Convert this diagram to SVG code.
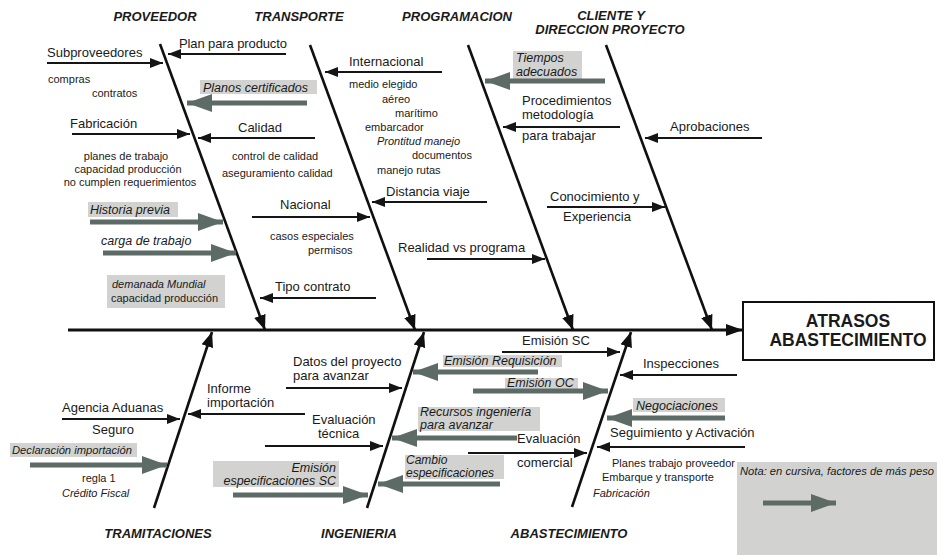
<svg xmlns="http://www.w3.org/2000/svg" width="937" height="555" viewBox="0 0 937 555">
  <defs>
    <style>
      text { font-family: "Liberation Sans", Arial, sans-serif; fill: #1a1a1a; }
      .t { font-size: 13px; }
      .w { font-size: 12.5px; font-style: italic; }
      .s { font-size: 11px; }
      .i { font-style: italic; }
      .cat { font-size: 13px; font-weight: bold; font-style: italic; text-anchor: middle; }
      .eff { font-size: 17.5px; font-weight: bold; text-anchor: middle; }
      .hl { fill: #d2d2d0; }
      .ln { stroke: #151515; stroke-width: 1.8; fill: none; marker-end: url(#ah); }
      .bone { stroke: #101010; stroke-width: 2.6; fill: none; marker-end: url(#ahb); }
      .spine { stroke: #101010; stroke-width: 3; fill: none; marker-end: url(#ahs); }
      .ga { stroke: #5d6b67; stroke-width: 5; fill: none; marker-end: url(#gah); }
    </style>
    <marker id="ah" markerUnits="userSpaceOnUse" markerWidth="14" markerHeight="12" refX="13" refY="6" orient="auto" viewBox="0 0 14 12">
      <path d="M0,1 L13,6 L0,11 Z" fill="#151515"/>
    </marker>
    <marker id="ahb" markerUnits="userSpaceOnUse" markerWidth="16" markerHeight="14" refX="15" refY="7" orient="auto" viewBox="0 0 16 14">
      <path d="M0,1 L15,7 L0,13 Z" fill="#101010"/>
    </marker>
    <marker id="ahs" markerUnits="userSpaceOnUse" markerWidth="18" markerHeight="14" refX="17" refY="7" orient="auto" viewBox="0 0 18 14">
      <path d="M0,1 L17,7 L0,13 Z" fill="#101010"/>
    </marker>
    <marker id="gah" markerUnits="userSpaceOnUse" markerWidth="26" markerHeight="20" refX="25" refY="10" orient="auto" viewBox="0 0 26 20">
      <path d="M0,1 L25,10 L0,19 Z" fill="#5d6b67"/>
    </marker>
  </defs>

  <rect width="937" height="555" fill="#ffffff"/>

  <!-- highlight panels behind weighted factors -->
  <g id="highlights">
    <rect class="hl" x="200" y="80" width="117" height="14"/>
    <rect class="hl" x="88" y="202" width="90" height="15"/>
    <rect class="hl" x="107" y="275" width="118" height="33"/>
    <rect class="hl" x="513" y="51" width="69" height="28"/>
    <rect class="hl" x="10" y="443" width="127" height="14"/>
    <rect class="hl" x="213" y="461" width="126" height="26"/>
    <rect class="hl" x="443" y="355" width="119" height="12"/>
    <rect class="hl" x="505" y="378" width="73" height="11"/>
    <rect class="hl" x="418" y="407" width="122" height="24"/>
    <rect class="hl" x="405" y="455" width="99" height="24"/>
    <rect class="hl" x="633" y="398" width="92" height="14"/>
    <rect class="hl" x="737" y="462" width="200" height="93"/>
  </g>

  <!-- spine, bones and cause arrows -->
  <g id="connectors">
    <line class="spine" x1="68" y1="330" x2="743" y2="330"/>

    <line class="bone" x1="160" y1="44" x2="265" y2="330"/>
    <line class="bone" x1="310" y1="45" x2="415" y2="330"/>
    <line class="bone" x1="468" y1="45" x2="573" y2="330"/>
    <line class="bone" x1="606" y1="45" x2="712" y2="330"/>
    <line class="bone" x1="154" y1="508" x2="212" y2="332"/>
    <line class="bone" x1="367" y1="508" x2="424" y2="332"/>
    <line class="bone" x1="572" y1="507" x2="631" y2="332"/>

    <!-- plain causes -->
    <line class="ln" x1="47" y1="63" x2="163" y2="63"/>
    <line class="ln" x1="286" y1="54" x2="168" y2="54"/>
    <line class="ln" x1="72" y1="134" x2="190" y2="134"/>
    <line class="ln" x1="315" y1="138" x2="198" y2="138"/>
    <line class="ln" x1="376" y1="298" x2="260" y2="298"/>
    <line class="ln" x1="442" y1="72" x2="325" y2="72"/>
    <line class="ln" x1="487" y1="202" x2="372" y2="202"/>
    <line class="ln" x1="252" y1="217" x2="370" y2="217"/>
    <line class="ln" x1="620" y1="127" x2="503" y2="127"/>
    <line class="ln" x1="427" y1="259" x2="545" y2="259"/>
    <line class="ln" x1="547" y1="207" x2="665" y2="207"/>
    <line class="ln" x1="762" y1="138" x2="645" y2="138"/>
    <line class="ln" x1="62" y1="419" x2="180" y2="419"/>
    <line class="ln" x1="305" y1="414" x2="188" y2="414"/>
    <line class="ln" x1="286" y1="388" x2="402" y2="388"/>
    <line class="ln" x1="265" y1="446" x2="383" y2="446"/>
    <line class="ln" x1="502" y1="352" x2="620" y2="352"/>
    <line class="ln" x1="468" y1="453" x2="587" y2="453"/>
    <line class="ln" x1="737" y1="375" x2="620" y2="375"/>
    <line class="ln" x1="745" y1="447" x2="597" y2="447"/>

    <!-- weighted causes -->
    <line class="ga" x1="307" y1="103" x2="187" y2="103"/>
    <line class="ga" x1="90" y1="222" x2="223" y2="222"/>
    <line class="ga" x1="103" y1="253" x2="236" y2="253"/>
    <line class="ga" x1="605" y1="81" x2="485" y2="81"/>
    <line class="ga" x1="30" y1="465" x2="167" y2="465"/>
    <line class="ga" x1="233" y1="495" x2="368" y2="495"/>
    <line class="ga" x1="538" y1="372" x2="413" y2="372"/>
    <line class="ga" x1="473" y1="391" x2="608" y2="391"/>
    <line class="ga" x1="517" y1="438" x2="392" y2="438"/>
    <line class="ga" x1="500" y1="484" x2="378" y2="484"/>
    <line class="ga" x1="725" y1="418" x2="607" y2="418"/>
    <line class="ga" x1="763" y1="503" x2="836" y2="503"/>
  </g>

  <g id="proveedor">
    <text class="cat" x="155" y="21">PROVEEDOR</text>
    <text class="t" x="47" y="57">Subproveedores</text>
    <text class="s" x="48" y="83">compras</text>
    <text class="s" x="92" y="97">contratos</text>
    <text class="t" x="70" y="128">Fabricación</text>
    <text class="s" x="126" y="160" text-anchor="middle">planes de trabajo</text>
    <text class="s" x="128" y="173" text-anchor="middle">capacidad producción</text>
    <text class="s" x="130" y="186" text-anchor="middle">no cumplen requerimientos</text>
    <text class="w" x="90" y="214">Historia previa</text>
    <text class="w" x="101" y="245">carga de trabajo</text>
    <text class="s i" x="112" y="288">demanada Mundial</text>
    <text class="s" x="111" y="302">capacidad producción</text>
  </g>

  <g id="transporte">
    <text class="cat" x="299" y="21">TRANSPORTE</text>
    <text class="t" x="179" y="48" textLength="108">Plan para producto</text>
    <text class="w" x="203" y="92">Planos certificados</text>
    <text class="t" x="238" y="132">Calidad</text>
    <text class="s" x="232" y="160">control de calidad</text>
    <text class="s" x="222" y="177">aseguramiento calidad</text>
    <text class="t" x="280" y="209">Nacional</text>
    <text class="s" x="270" y="240">casos especiales</text>
    <text class="s" x="308" y="254">permisos</text>
    <text class="t" x="275" y="291">Tipo contrato</text>
  </g>

  <g id="programacion">
    <text class="cat" x="457" y="21">PROGRAMACION</text>
    <text class="t" x="349" y="66">Internacional</text>
    <text class="s" x="349" y="88">medio elegido</text>
    <text class="s" x="382" y="103">aéreo</text>
    <text class="s" x="395" y="117">marítimo</text>
    <text class="s" x="365" y="131">embarcador</text>
    <text class="s i" x="377" y="145">Prontitud manejo</text>
    <text class="s" x="412" y="159">documentos</text>
    <text class="s" x="377" y="174">manejo rutas</text>
    <text class="t" x="386" y="196">Distancia viaje</text>
    <text class="t" x="398" y="252">Realidad vs programa</text>
  </g>

  <g id="cliente">
    <text class="cat" x="611" y="20">CLIENTE Y</text>
    <text class="cat" x="610" y="34">DIRECCION PROYECTO</text>
    <text class="w" x="516" y="62">Tiempos</text>
    <text class="w" x="516" y="76">adecuados</text>
    <text class="t" x="522" y="105">Procedimientos</text>
    <text class="t" x="522" y="119">metodología</text>
    <text class="t" x="522" y="140">para trabajar</text>
    <text class="t" x="550" y="201">Conocimiento y</text>
    <text class="t" x="563" y="221">Experiencia</text>
    <text class="t" x="670" y="131">Aprobaciones</text>
  </g>

  <g id="tramitaciones">
    <text class="cat" x="158" y="538">TRAMITACIONES</text>
    <text class="t" x="62" y="412">Agencia Aduanas</text>
    <text class="t" x="92" y="434">Seguro</text>
    <text class="s i" x="12" y="454" style="font-size:11.2px">Declaración importación</text>
    <text class="s" x="82" y="482">regla 1</text>
    <text class="s i" x="62" y="497">Crédito Fiscal</text>
    <text class="t" x="207" y="393">Informe</text>
    <text class="t" x="207" y="407">importación</text>
  </g>

  <g id="ingenieria">
    <text class="cat" x="359" y="538">INGENIERIA</text>
    <text class="t" x="293" y="366">Datos del proyecto</text>
    <text class="t" x="293" y="380">para avanzar</text>
    <text class="t" x="312" y="424">Evaluación</text>
    <text class="t" x="318" y="438">técnica</text>
    <text class="w" x="336" y="472" text-anchor="end">Emisión</text>
    <text class="w" x="336" y="485" text-anchor="end">especificaciones SC</text>
  </g>

  <g id="abastecimiento">
    <text class="cat" x="569" y="538">ABASTECIMIENTO</text>
    <text class="t" x="522" y="345">Emisión SC</text>
    <text class="w" x="444" y="365">Emisión Requisición</text>
    <text class="w" x="507" y="387">Emisión OC</text>
    <text class="w" x="420" y="416">Recursos ingeniería</text>
    <text class="w" x="420" y="429">para avanzar</text>
    <text class="t" x="517" y="443">Evaluación</text>
    <text class="t" x="517" y="467">comercial</text>
    <text class="w" x="406" y="464" style="font-size:12px">Cambio</text>
    <text class="w" x="406" y="477" style="font-size:12px">especificaciones</text>
    <text class="t" x="643" y="368">Inspecciones</text>
    <text class="w" x="636" y="410">Negociaciones</text>
    <text class="t" x="610" y="437">Seguimiento y Activación</text>
    <text class="s" x="612" y="467">Planes trabajo proveedor</text>
    <text class="s" x="602" y="481">Embarque y transporte</text>
    <text class="s i" x="593" y="497">Fabricación</text>
  </g>

  <g id="efecto">
    <rect x="743" y="302" width="191" height="58" fill="#ffffff" stroke="#101010" stroke-width="2"/>
    <text class="eff" x="848" y="327">ATRASOS</text>
    <text class="eff" x="848" y="346">ABASTECIMIENTO</text>
  </g>

  <g id="nota">
    <text class="s i" x="740" y="475" style="font-size:11.2px">Nota: en cursiva, factores de más peso</text>
  </g>
</svg>
